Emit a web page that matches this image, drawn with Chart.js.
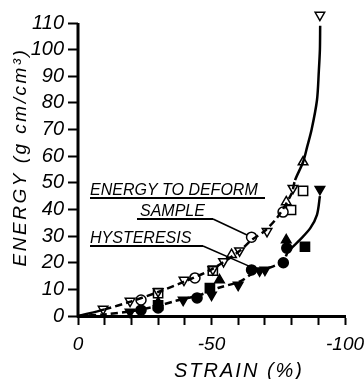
<!DOCTYPE html>
<html>
<head>
<meta charset="utf-8">
<script src="https://cdn.jsdelivr.net/npm/chart.js@4/dist/chart.umd.min.js"></script>
<style>
  html, body { margin: 0; padding: 0; background: #fff; }
  canvas { display: block; }
</style>
</head>
<body>
<canvas id="chart" width="364" height="379"></canvas>
<script>
// Strain ticks that carry a label
const labelledStrain = [0, -50, -100];
// Highest labelled energy tick; the axis line stops here
const energyTop = 110;

// Fitted curve: energy needed to deform the sample
const deformStrain = [0, -10, -20, -30, -40, -50, -60, -65, -70, -75, -80, -81.3, -84.3, -85.8, -87.5, -89.5, -90.2, -90.6, -90.7];
const deformEnergy = [0, 2.5, 5.5, 9, 13, 17.5, 24, 28.5, 32, 37.5, 46, 51, 57.8, 63.4, 70, 81, 92, 100, 109];

// Fitted curve: hysteresis energy
const hystStrain = [0, -10, -20, -30, -37, -45.7, -52.4, -60.7, -65.5, -70, -76.8, -78.6, -83, -87, -89.5, -90.6];
const hystEnergy = [0, 0.6, 1.8, 3.8, 5.8, 7.9, 10.5, 13, 16, 17.5, 20.5, 24, 28.5, 33, 38, 45];

// Measured points, energy to deform (open symbols)
const openDownStrain = [-9.4, -19.5, -30, -39.7, -54.5, -60.5, -70.8, -80.5, -50.5, -90.6];
const openDownEnergy = [2.6, 5.6, 9.2, 13.5, 20.5, 24.5, 31.8, 48, 17.5, 113];
const openCircleStrain = [-23.6, -43.8, -65, -76.8];
const openCircleEnergy = [6, 14.3, 29.6, 39];
const openSquareStrain = [-30, -50.5, -79.8, -84.3];
const openSquareEnergy = [8.6, 17, 39.8, 47];
const openUpStrain = [-57.5, -78, -84.3];
const openUpEnergy = [23, 42.8, 57.8];

// Measured points, hysteresis (filled symbols)
const fillDownStrain = [-19.5, -39.4, -50, -60, -68, -70, -90.6];
const fillDownEnergy = [1.5, 6, 7.9, 11.6, 17, 17.3, 47.6];
const fillCircleStrain = [-23.6, -30, -44.6, -65, -76.9, -78.2];
const fillCircleEnergy = [2.2, 3, 6.8, 17.3, 20, 25.5];
const fillSquareStrain = [-30, -49.4, -85];
const fillSquareEnergy = [4, 10.5, 26];
const fillUpStrain = [-30, -53, -78];
const fillUpEnergy = [5, 13.5, 28.5];

const pairs = (xs, ys) => xs.map((x, i) => ({ x: x, y: ys[i] }));

const FONT = "'Liberation Sans', Arial, sans-serif";
const NARROW = "'Liberation Sans Narrow', 'Liberation Sans', Arial, sans-serif";
const INK = '#000';

function markerSet(xs, ys, style, filled, radius, rotation) {
  return {
    type: 'scatter',
    data: pairs(xs, ys),
    pointStyle: style,
    pointRadius: radius,
    pointRotation: rotation || 0,
    pointBackgroundColor: filled ? INK : '#fff',
    pointBorderColor: INK,
    pointBorderWidth: 1.5,
    showLine: false,
    clip: false
  };
}

// Energy axis line, drawn only up to the last labelled tick
const energyAxisLine = {
  id: 'energyAxisLine',
  beforeDatasetsDraw(chart) {
    const { ctx, scales: { x, y } } = chart;
    ctx.save();
    ctx.strokeStyle = INK;
    ctx.lineWidth = 3;
    ctx.beginPath();
    ctx.moveTo(x.left, y.getPixelForValue(energyTop));
    ctx.lineTo(x.left, y.getPixelForValue(0) + 1.5);
    ctx.stroke();
    ctx.restore();
  }
};

// Titles and the labelled leaders inside the plot
const lettering = {
  id: 'lettering',
  afterDraw(chart) {
    const { ctx, scales: { x, y } } = chart;
    ctx.save();
    ctx.fillStyle = INK;
    ctx.strokeStyle = INK;

    // y axis title
    ctx.save();
    ctx.translate(21, 157);
    ctx.rotate(-Math.PI / 2);
    ctx.font = 'italic 19px ' + FONT;
    ctx.letterSpacing = '2.5px';
    ctx.textAlign = 'center';
    ctx.textBaseline = 'middle';
    ctx.fillText('ENERGY (g cm/cm³)', 0, 0);
    ctx.restore();

    // x axis title
    ctx.font = 'italic 20px ' + FONT;
    ctx.textAlign = 'center';
    ctx.textBaseline = 'middle';
    ctx.letterSpacing = '2px';
    ctx.fillText('STRAIN (%)', 239, 371);
    ctx.letterSpacing = '0px';

    // underlined notes
    ctx.font = 'italic 16px ' + FONT;
    ctx.textAlign = 'left';
    ctx.textBaseline = 'alphabetic';
    ctx.lineWidth = 1.8;
    const note = (text, left, base, uStart, uEnd) => {
      ctx.fillText(text, left, base);
      ctx.beginPath();
      ctx.moveTo(uStart, base + 3);
      ctx.lineTo(uEnd, base + 3);
      ctx.stroke();
    };
    note('ENERGY TO DEFORM', 90, 195, 90, 265);
    note('SAMPLE', 140, 216, 137, 213);
    note('HYSTERESIS', 90, 243, 90, 203);

    // leaders to the points they describe
    ctx.lineWidth = 1.5;
    const leader = (sx, sy, px, py, gap) => {
      const tx = x.getPixelForValue(px), ty = y.getPixelForValue(py);
      const dx = tx - sx, dy = ty - sy, len = Math.hypot(dx, dy);
      ctx.beginPath();
      ctx.moveTo(sx, sy);
      ctx.lineTo(tx - dx / len * gap, ty - dy / len * gap);
      ctx.stroke();
    };
    leader(213, 219, openCircleStrain[2], openCircleEnergy[2], 5);
    leader(203, 246, fillDownStrain[4], fillDownEnergy[4], 4);

    ctx.restore();
  }
};

new Chart(document.getElementById('chart'), {
  type: 'scatter',
  data: {
    datasets: [
      {
        type: 'line',
        data: pairs(deformStrain, deformEnergy),
        borderColor: INK,
        borderWidth: 2.5,
        pointRadius: 0,
        tension: 0.3,
        fill: false,
        clip: false,
        segment: {
          borderDash: c => (c.p0DataIndex === 0 || c.p0.parsed.y >= 50) ? [] : [7, 4]
        }
      },
      {
        type: 'line',
        data: pairs(hystStrain, hystEnergy),
        borderColor: INK,
        borderWidth: 2.5,
        pointRadius: 0,
        tension: 0.3,
        fill: false,
        clip: false,
        segment: {
          borderDash: c => (c.p0.parsed.y >= 24) ? [] : [7, 4]
        }
      },
      markerSet(openDownStrain, openDownEnergy, 'triangle', false, 5.5, 180),
      markerSet(openCircleStrain, openCircleEnergy, 'circle', false, 5),
      markerSet(openSquareStrain, openSquareEnergy, 'rect', false, 6.5),
      markerSet(openUpStrain, openUpEnergy, 'triangle', false, 5.5),
      markerSet(fillDownStrain, fillDownEnergy, 'triangle', true, 5.5, 180),
      markerSet(fillCircleStrain, fillCircleEnergy, 'circle', true, 5),
      markerSet(fillSquareStrain, fillSquareEnergy, 'rect', true, 6.5),
      markerSet(fillUpStrain, fillUpEnergy, 'triangle', true, 5.5)
    ]
  },
  options: {
    responsive: false,
    animation: false,
    devicePixelRatio: 1,
    layout: { padding: { top: 12.35, right: 19, left: 0, bottom: 0 } },
    plugins: { legend: { display: false }, tooltip: { enabled: false } },
    scales: {
      x: {
        type: 'linear',
        min: -100,
        max: 0,
        reverse: true,
        ticks: {
          stepSize: 10,
          autoSkip: false,
          maxRotation: 0,
          padding: 8,
          color: INK,
          font: { family: FONT, size: 19, style: 'italic' },
          callback: v => labelledStrain.includes(v) ? String(v) : ''
        },
        grid: { drawOnChartArea: false, tickLength: 9, tickWidth: 2, tickColor: INK },
        border: { color: INK, width: 3 },
        afterFit: s => { s.height = 63; s.paddingLeft = 0; s.paddingRight = 0; }
      },
      y: {
        type: 'linear',
        min: 0,
        max: 114,
        ticks: {
          stepSize: 10,
          includeBounds: false,
          padding: 4,
          color: INK,
          font: { family: NARROW, size: 20, style: 'italic' }
        },
        grid: { drawOnChartArea: false, tickLength: 10, tickWidth: 2, tickColor: INK },
        border: { display: false },
        afterFit: s => { s.width = 78; s.paddingTop = 0; s.paddingBottom = 0; }
      }
    }
  },
  plugins: [energyAxisLine, lettering]
});
</script>
</body>
</html>
